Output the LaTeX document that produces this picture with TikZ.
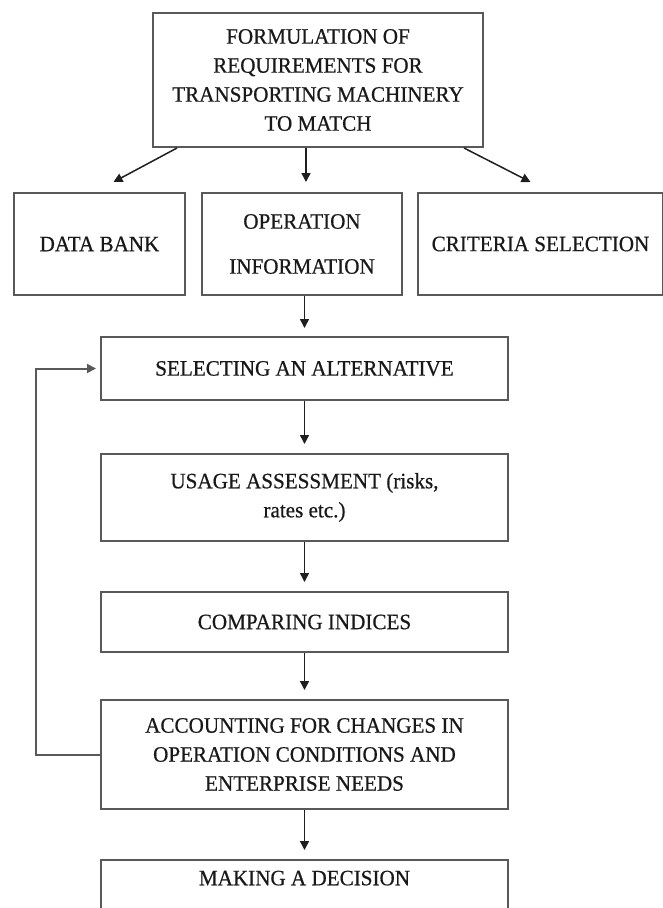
\documentclass[tikz,border=0pt]{standalone}
\usepackage{fontspec}
\setmainfont{Liberation Serif}[FakeStretch=0.96,FakeBold=0.6]
\usetikzlibrary{positioning,arrows.meta}

\begin{document}
\begin{tikzpicture}[x=1pt,y=1pt,
	box/.style={draw=black!65, line width=2pt, align=center, inner sep=2pt, text=black!90, font=\fontsize{22}{29}\selectfont},
	mainbox/.style={box, minimum width=407pt},
	arr/.style={draw=black!88, line width=1.5pt, -{Triangle[length=9pt,width=9pt]}}]
	\useasboundingbox (0,0) rectangle (663,-908);
	\clip (0,0) rectangle (663,-908);

	\node[box, minimum width=330pt, minimum height=134pt] (form) at (318,-80) {FORMULATION OF\\REQUIREMENTS FOR\\TRANSPORTING MACHINERY\\TO MATCH};
	\node[box, minimum width=200pt, minimum height=102pt] (info) at (302,-244) {OPERATION\\[16pt]INFORMATION};
	\node[box, minimum width=171pt, minimum height=102pt, left=15pt of info] (bank) {DATA BANK};
	\node[box, minimum width=245pt, minimum height=102pt, right=14pt of info] (crit) {CRITERIA SELECTION};

	\node[mainbox, minimum height=63pt] (select) at (304.5,-368.5) {SELECTING AN ALTERNATIVE};
	\node[mainbox, minimum height=87pt, below=52pt of select] (usage) {USAGE ASSESSMENT (risks,\\rates etc.)};
	\node[mainbox, minimum height=60pt, below=49pt of usage] (compare) {COMPARING INDICES};
	\node[mainbox, minimum height=109pt, below=46pt of compare] (account) {ACCOUNTING FOR CHANGES IN\\OPERATION CONDITIONS AND\\ENTERPRISE NEEDS};
	\node[mainbox, minimum height=60pt, text depth=24pt, below=49pt of account] (decide) {MAKING A DECISION};

	\draw[arr] ([xshift=25pt]form.south west) -- ([xshift=14pt,yshift=10pt]bank.north);
	\draw[arr] ([xshift=-12pt]form.south) -- ([xshift=4pt,yshift=10pt]info.north);
	\draw[arr] ([xshift=-20pt]form.south east) -- ([xshift=-10pt,yshift=10pt]crit.north);
	\draw[arr, shorten >=8pt] (info.south -| select.north) -- (select.north);
	\draw[arr, shorten >=9pt] (select.south) -- (usage.north);
	\draw[arr, shorten >=9pt] (usage.south) -- (compare.north);
	\draw[arr, shorten >=9pt] (compare.south) -- (account.north);
	\draw[arr, shorten >=9pt] (account.south) -- (decide.north);
	\draw[arr, draw=black!65, line width=2pt, shorten >=4pt] (account.west) -- ++(-64,0) |- (select.west);
\end{tikzpicture}
\end{document}
